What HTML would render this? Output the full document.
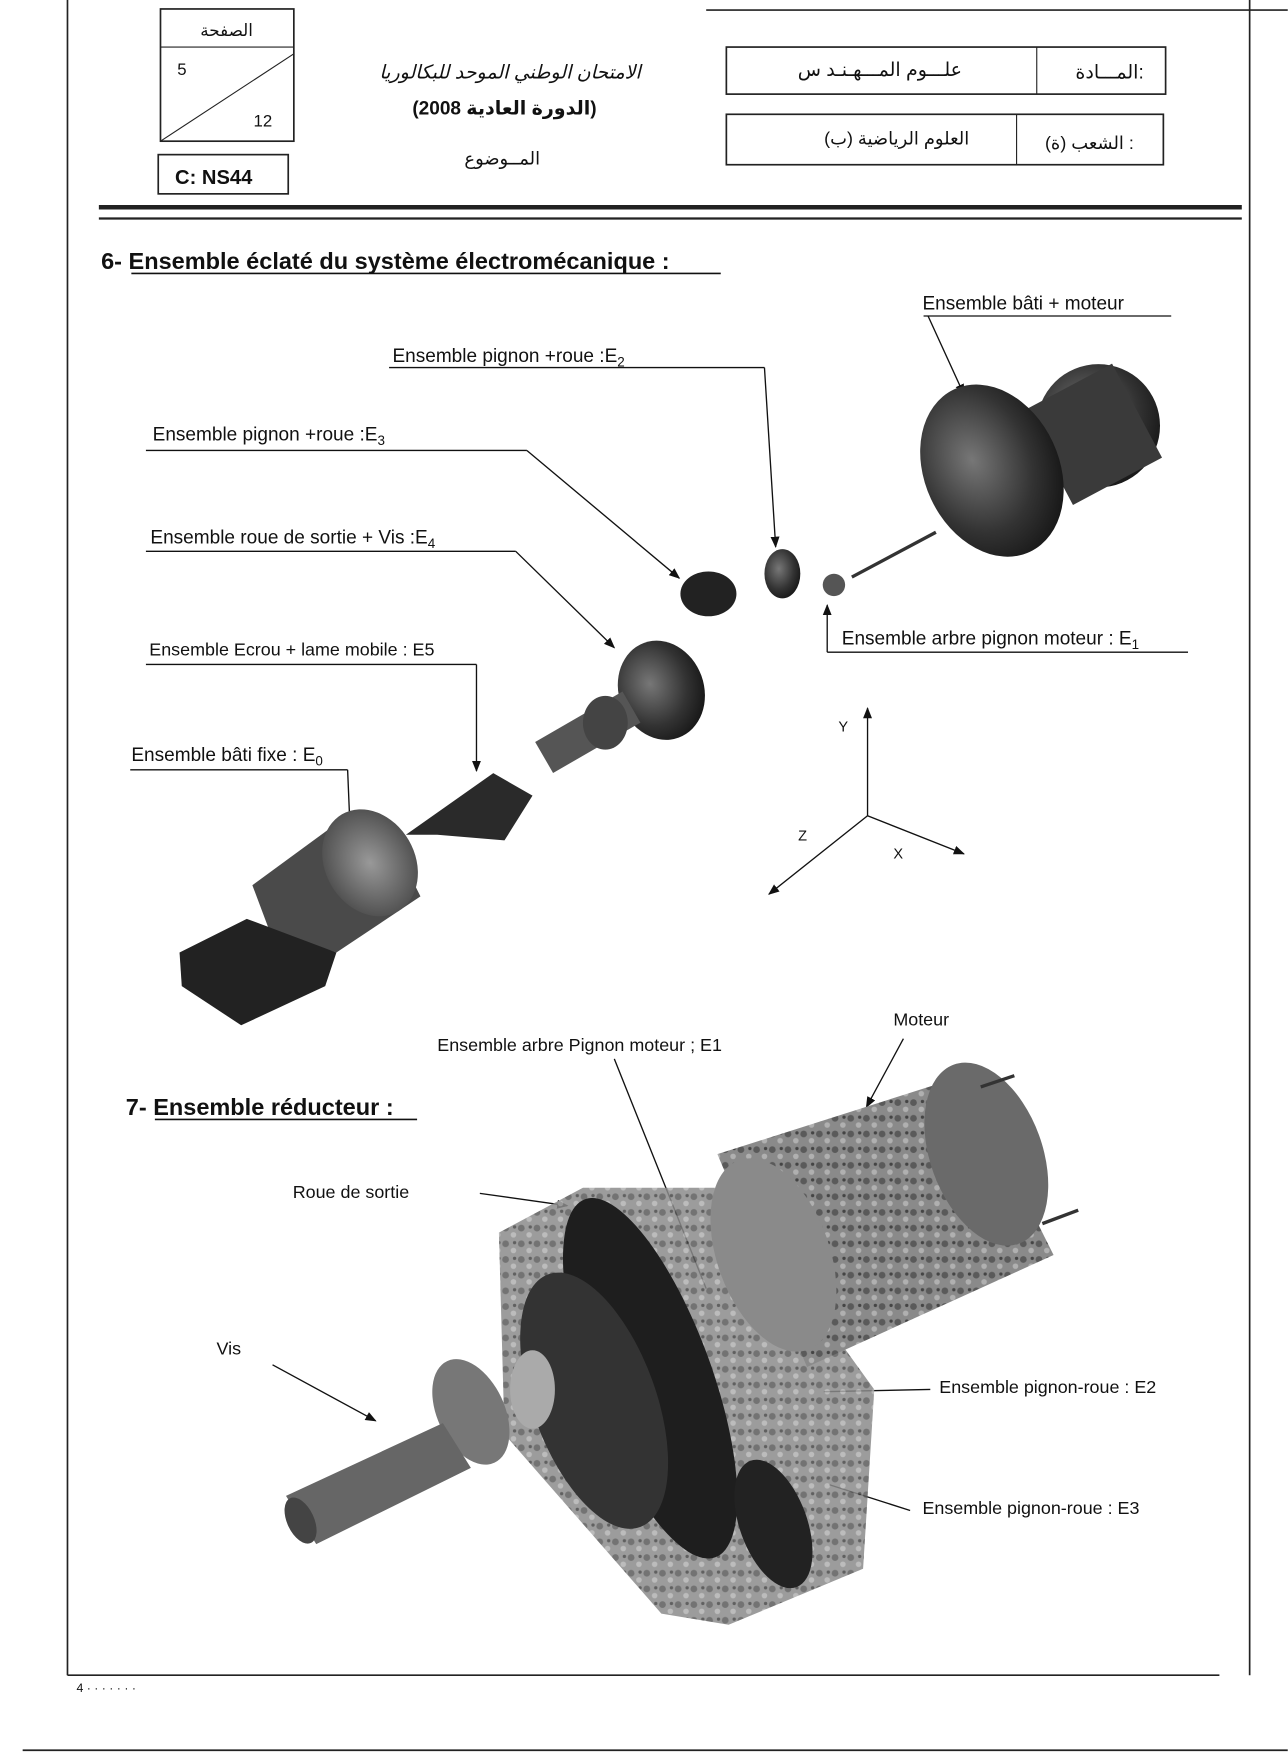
<!DOCTYPE html>
<html><head><meta charset="utf-8"><style>
html,body{margin:0;padding:0;background:#fff}
svg{display:block}
text{font-family:"Liberation Sans","DejaVu Sans",sans-serif;fill:#111}
</style></head><body>
<svg width="1288" height="1757" viewBox="0 0 1149 1568" xmlns="http://www.w3.org/2000/svg">
<defs>
<radialGradient id="g1" cx="40%" cy="40%" r="70%"><stop offset="0" stop-color="#777"/><stop offset="0.6" stop-color="#333"/><stop offset="1" stop-color="#111"/></radialGradient>
<radialGradient id="g2" cx="50%" cy="50%" r="60%"><stop offset="0" stop-color="#999"/><stop offset="1" stop-color="#444"/></radialGradient>
<pattern id="mot" width="14" height="14" patternUnits="userSpaceOnUse"><rect width="14" height="14" fill="#8a8a8a"/><circle cx="3" cy="4" r="3" fill="#5a5a5a"/><circle cx="10" cy="10" r="2.5" fill="#b0b0b0"/><circle cx="11" cy="3" r="1.5" fill="#444"/></pattern>
<marker id="ar" markerWidth="10" markerHeight="8" refX="9" refY="4" orient="auto" markerUnits="userSpaceOnUse"><path d="M0,0 L10,4 L0,8 z" fill="#111"/></marker>
</defs>
<g stroke="#222" fill="none">
<line x1="60" y1="0" x2="60" y2="1495" stroke-width="1.5"/>
<line x1="1115" y1="0" x2="1115" y2="1495" stroke-width="1.5"/>
<line x1="60" y1="1495" x2="1088" y2="1495" stroke-width="1.5"/>
<line x1="630" y1="9" x2="1149" y2="9" stroke-width="1.5"/>
<line x1="20" y1="1562" x2="1149" y2="1562" stroke-width="1.5"/>
<rect x="143" y="8" width="119" height="118" stroke-width="1.5"/>
<line x1="143" y1="42" x2="262" y2="42"/>
<line x1="143" y1="126" x2="262" y2="48"/>
<rect x="141" y="138" width="116" height="35" stroke-width="1.5"/>
<rect x="648" y="42" width="392" height="42" stroke-width="1.5"/>
<line x1="925" y1="42" x2="925" y2="84"/>
<rect x="648" y="102" width="390" height="45" stroke-width="1.5"/>
<line x1="907" y1="102" x2="907" y2="147"/>
<line x1="88" y1="185" x2="1108" y2="185" stroke-width="4"/>
<line x1="88" y1="195" x2="1108" y2="195" stroke-width="2"/>
</g>
<text x="202" y="32" font-size="15" text-anchor="middle">الصفحة</text>
<text x="158" y="67" font-size="15">5</text>
<text x="226" y="113" font-size="15">12</text>
<text x="156" y="164" font-size="18" font-weight="bold">C: NS44</text>
<text x="455" y="70" font-size="17" font-style="italic" text-anchor="middle">الامتحان الوطني الموحد للبكالوريا</text>
<text x="450" y="102" font-size="17" font-weight="bold" text-anchor="middle">(الدورة العادية 2008)</text>
<text x="448" y="147" font-size="16" text-anchor="middle">المــوضوع</text>
<text x="785" y="68" font-size="17" text-anchor="middle">علـــوم المـــهـنـد س</text>
<text x="990" y="70" font-size="17" text-anchor="middle">المـــادة:</text>
<text x="800" y="129" font-size="16" text-anchor="middle">العلوم الرياضية (ب)</text>
<text x="972" y="133" font-size="16" text-anchor="middle">الشعب (ة) :</text>

<text x="90" y="240" font-size="21" font-weight="bold">6- Ensemble éclaté du système électromécanique :</text>
<line x1="117" y1="244" x2="643" y2="244" stroke="#111" stroke-width="1.5"/>

<g font-size="17">
<text x="823" y="276">Ensemble bâti + moteur</text>
<text x="350" y="323">Ensemble pignon +roue :E<tspan font-size="12" dy="4">2</tspan></text>
<text x="136" y="393">Ensemble pignon +roue :E<tspan font-size="12" dy="4">3</tspan></text>
<text x="134" y="485">Ensemble roue de sortie + Vis :E<tspan font-size="12" dy="4">4</tspan></text>
<text x="133" y="585" font-size="16">Ensemble Ecrou + lame mobile : E5</text>
<text x="117" y="679">Ensemble bâti fixe : E<tspan font-size="12" dy="4">0</tspan></text>
<text x="751" y="575">Ensemble arbre pignon moteur : E<tspan font-size="12" dy="4">1</tspan></text>
</g>
<g stroke="#111" stroke-width="1.2" fill="none">
<line x1="824" y1="282" x2="1045" y2="282"/>
<line x1="828" y1="282" x2="860" y2="352" marker-end="url(#ar)"/>
<line x1="347" y1="328" x2="682" y2="328"/>
<line x1="682" y1="328" x2="692" y2="488" marker-end="url(#ar)"/>
<line x1="130" y1="402" x2="470" y2="402"/>
<line x1="470" y1="402" x2="606" y2="516" marker-end="url(#ar)"/>
<line x1="130" y1="492" x2="460" y2="492"/>
<line x1="460" y1="492" x2="548" y2="578" marker-end="url(#ar)"/>
<line x1="130" y1="593" x2="425" y2="593"/>
<line x1="425" y1="593" x2="425" y2="688" marker-end="url(#ar)"/>
<line x1="116" y1="687" x2="310" y2="687"/>
<line x1="310" y1="687" x2="312" y2="735" marker-end="url(#ar)"/>
<line x1="1060" y1="582" x2="738" y2="582"/>
<line x1="738" y1="582" x2="738" y2="540" marker-end="url(#ar)"/>
<line x1="774" y1="728" x2="774" y2="632" marker-end="url(#ar)"/>
<line x1="774" y1="728" x2="860" y2="762" marker-end="url(#ar)"/>
<line x1="774" y1="728" x2="686" y2="798" marker-end="url(#ar)"/>
</g>
<text x="748" y="653" font-size="13">Y</text>
<text x="712" y="750" font-size="13">Z</text>
<text x="797" y="766" font-size="13">X</text>

<g>
<ellipse cx="980" cy="380" rx="55" ry="55" fill="url(#g1)"/>
<rect x="930" y="340" width="90" height="95" fill="#3a3a3a" transform="rotate(-28 975 388)"/>
<ellipse cx="885" cy="420" rx="60" ry="80" fill="url(#g1)" transform="rotate(-25 885 420)"/>
<line x1="760" y1="515" x2="835" y2="475" stroke="#333" stroke-width="3"/>
<circle cx="744" cy="522" r="10" fill="#555"/>
<ellipse cx="698" cy="512" rx="16" ry="22" fill="url(#g1)"/>
<ellipse cx="632" cy="530" rx="25" ry="20" fill="#222"/>
<ellipse cx="590" cy="616" rx="38" ry="45" fill="url(#g1)" transform="rotate(-20 590 616)"/>
<rect x="480" y="640" width="90" height="32" fill="#555" transform="rotate(-30 520 656)"/>
<ellipse cx="540" cy="645" rx="20" ry="24" fill="#444"/>
<path d="M362,745 L440,690 L475,710 L450,750 L390,745 Z" fill="#2a2a2a"/>
<path d="M225,790 L300,735 L350,750 L375,800 L300,850 L240,830 Z" fill="#4a4a4a"/>
<ellipse cx="330" cy="770" rx="40" ry="50" fill="url(#g2)" transform="rotate(-30 330 770)"/>
<path d="M160,850 L220,820 L300,850 L290,880 L215,915 L162,880 Z" fill="#222"/>
</g>

<text x="112" y="995" font-size="21" font-weight="bold">7- Ensemble réducteur :</text>
<line x1="138" y1="999" x2="372" y2="999" stroke="#111" stroke-width="1.5"/>
<g font-size="16">
<text x="797" y="915">Moteur</text>
<text x="390" y="938">Ensemble arbre Pignon moteur ; E1</text>
<text x="261" y="1069">Roue de sortie</text>
<text x="193" y="1209">Vis</text>
<text x="838" y="1243">Ensemble  pignon-roue : E2</text>
<text x="823" y="1351">Ensemble pignon-roue : E3</text>
</g>
<g stroke="#111" stroke-width="1.2" fill="none">
<line x1="806" y1="927" x2="773" y2="988" marker-end="url(#ar)"/>
<line x1="548" y1="945" x2="630" y2="1150"/>
<line x1="428" y1="1065" x2="506" y2="1076" marker-end="url(#ar)"/>
<line x1="243" y1="1218" x2="335" y2="1268" marker-end="url(#ar)"/>
<line x1="830" y1="1240" x2="735" y2="1242"/>
<line x1="812" y1="1348" x2="740" y2="1325"/>
</g>
<g>
<path d="M445,1100 L520,1060 L650,1060 L780,1240 L770,1400 L650,1450 L590,1440 L450,1280 Z" fill="url(#mot)" opacity="0.85"/>
<path d="M640,1030 L860,960 L940,1120 L720,1220 Z" fill="url(#mot)"/>
<ellipse cx="880" cy="1030" rx="50" ry="85" fill="#6a6a6a" transform="rotate(-20 880 1030)"/>
<ellipse cx="690" cy="1120" rx="50" ry="90" fill="#8a8a8a" transform="rotate(-20 690 1120)"/>
<line x1="875" y1="970" x2="905" y2="960" stroke="#333" stroke-width="3"/>
<line x1="930" y1="1092" x2="962" y2="1080" stroke="#333" stroke-width="3"/>
<ellipse cx="580" cy="1230" rx="55" ry="170" fill="#1e1e1e" transform="rotate(-20 580 1230)"/>
<ellipse cx="530" cy="1250" rx="55" ry="120" fill="#333" transform="rotate(-20 530 1250)"/>
<ellipse cx="690" cy="1360" rx="30" ry="60" fill="#222" transform="rotate(-20 690 1360)"/>
<ellipse cx="420" cy="1260" rx="30" ry="50" fill="#777" transform="rotate(-25 420 1260)"/>
<ellipse cx="475" cy="1240" rx="20" ry="35" fill="#aaa"/>
<path d="M255,1335 L395,1270 L420,1310 L282,1378 Z" fill="#666"/>
<ellipse cx="268" cy="1357" rx="12" ry="22" fill="#444" transform="rotate(-25 268 1357)"/>
</g>
<text x="68" y="1510" font-size="11" fill="#999">4 ·   ·  ·  ·  ·  ·  ·</text>
</svg>
</body></html>
